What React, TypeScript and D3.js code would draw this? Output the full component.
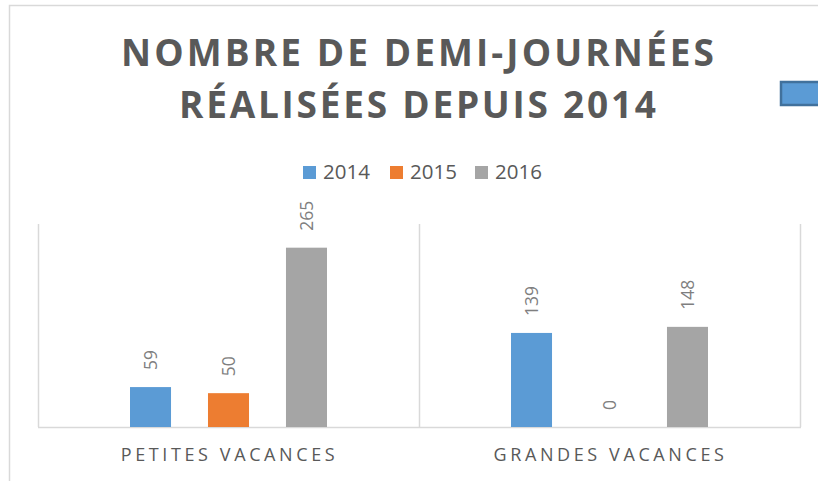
import React from "react";
import * as d3 from "d3";

const titleLines = ["NOMBRE DE DEMI-JOURNÉES", "RÉALISÉES DEPUIS 2014"];
const categories = ["PETITES VACANCES", "GRANDES VACANCES"];
const seriesNames = ["2014", "2015", "2016"];
const values2014 = [59, 139];
const values2015 = [50, 0];
const values2016 = [265, 148];
const seriesColors = ["#5B9BD5", "#ED7D31", "#A5A5A5"];

const W = 818;
const H = 481;
const plot = { left: 38, right: 800, top: 224, bottom: 427 };

export default function App() {
  const seriesValues = [values2014, values2015, values2016];
  const x0 = d3.scaleBand<string>().domain(categories).range([plot.left, plot.right]).padding(0);
  const cw = x0.bandwidth();
  const x1 = d3
    .scaleBand<string>()
    .domain(seriesNames)
    .range([92, cw - 92])
    .paddingInner(0.474)
    .paddingOuter(0);
  const y = d3.scaleLinear().domain([0, 300]).range([plot.bottom, plot.top]);
  const font = "'Open Sans', 'DejaVu Sans', sans-serif";
  const textColor = "#595959";
  const legendX = [303, 390, 475];

  return (
    <svg
      width={W}
      height={H}
      style={{ position: "absolute", left: 0, top: 0, background: "#fff" }}
      fontFamily={font}
    >
      <rect x={0} y={0} width={W} height={H} fill="#fff" />
      <rect x={9.5} y={5.5} width={W + 20} height={H + 20} fill="none" stroke="#D9D9D9" strokeWidth={1.5} />

      {titleLines.map((t, i) => (
        <text
          key={t}
          x={417.5}
          y={66 + i * 52}
          textAnchor="middle"
          fontSize={37}
          fontWeight={700}
          fill={textColor}
          textLength={i === 0 ? 593 : 477}
          lengthAdjust="spacing"
        >
          {t}
        </text>
      ))}

      <rect x={781} y={82} width={60} height={23} fill="#5B9BD5" stroke="#41719C" strokeWidth={2.5} />

      {seriesNames.map((s, i) => (
        <g key={s}>
          <rect x={legendX[i]} y={166} width={13} height={13} fill={seriesColors[i]} />
          <text x={legendX[i] + 20} y={179} fontSize={20.5} fill={textColor}>
            {s}
          </text>
        </g>
      ))}

      {[...categories.map((c) => x0(c)!), plot.right].map((xv, i) => (
        <line key={i} x1={xv + 0.5} x2={xv + 0.5} y1={plot.top} y2={plot.bottom} stroke="#D9D9D9" strokeWidth={1.5} />
      ))}
      <line x1={plot.left} x2={plot.right + 1} y1={plot.bottom + 0.5} y2={plot.bottom + 0.5} stroke="#D9D9D9" strokeWidth={1.5} />

      {categories.map((c, ci) => (
        <g key={c} transform={`translate(${x0(c)},0)`}>
          {seriesNames.map((s, si) => {
            const v = seriesValues[si][ci];
            const bx = x1(s)!;
            const bw = x1.bandwidth();
            return (
              <g key={s}>
                {v > 0 && (
                  <rect x={bx} y={y(v)} width={bw} height={y(0) - y(v)} fill={seriesColors[si]} />
                )}
                <text
                  transform={`translate(${bx + bw / 2},${y(v) - 17}) rotate(-90)`}
                  textAnchor="start"
                  dy="0.35em"
                  fontSize={17.5}
                  fill="#7F7F7F"
                >
                  {v}
                </text>
              </g>
            );
          })}
          <text
            x={cw / 2 + 1}
            y={461}
            textAnchor="middle"
            fontSize={18}
            fill={textColor}
            letterSpacing={3.6}
          >
            {c}
          </text>
        </g>
      ))}
    </svg>
  );
}
